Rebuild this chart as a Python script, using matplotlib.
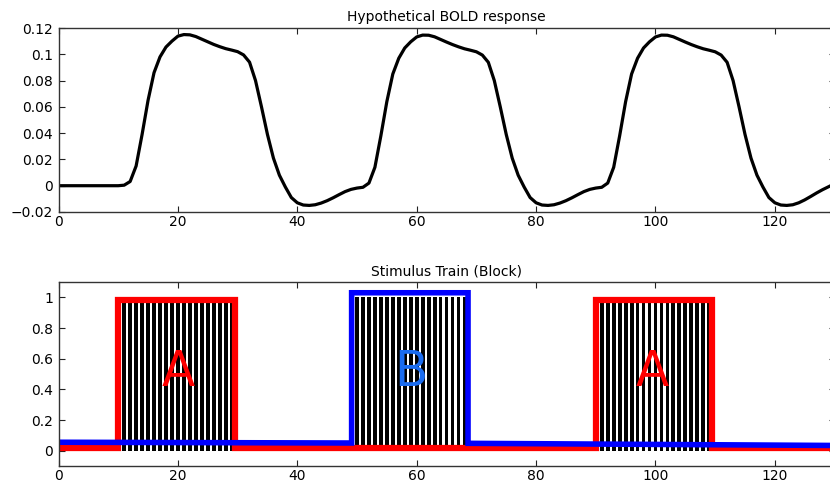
import numpy as np
import matplotlib
matplotlib.use("Agg")
import matplotlib.pyplot as plt

# time axis (s) and modelled BOLD signal, 1 s samples
t = np.arange(0, 131)
bold = [
    0, 0, 0, 0, 0, 0, 0, 0, 0, 0,
    0, 0.0004, 0.0032, 0.0150, 0.039, 0.065, 0.086, 0.098, 0.1055, 0.110,
    0.1138, 0.1150, 0.1148, 0.1135, 0.1115, 0.1095, 0.1075, 0.1058, 0.1043, 0.1032,
    0.1020, 0.0995, 0.0940, 0.080, 0.060, 0.039, 0.021, 0.008, -0.001, -0.009,
    -0.013, -0.0147, -0.0150, -0.0145, -0.0132, -0.0114, -0.0092, -0.0068, -0.0045, -0.0028,
    -0.0018, -0.0012, 0.0020, 0.0140, 0.0380, 0.0640, 0.085, 0.097, 0.1048, 0.1095,
    0.1132, 0.1146, 0.1145, 0.1133, 0.1113, 0.1093, 0.1074, 0.1057, 0.1042, 0.1031,
    0.1019, 0.0994, 0.0939, 0.080, 0.060, 0.039, 0.021, 0.008, -0.001, -0.009,
    -0.013, -0.0147, -0.0150, -0.0145, -0.0132, -0.0114, -0.0092, -0.0068, -0.0045, -0.0028,
    -0.0018, -0.0012, 0.0020, 0.0140, 0.0380, 0.0640, 0.085, 0.097, 0.1048, 0.1095,
    0.1132, 0.1146, 0.1145, 0.1133, 0.1113, 0.1093, 0.1074, 0.1057, 0.1042, 0.1031,
    0.1019, 0.0994, 0.0939, 0.080, 0.060, 0.039, 0.021, 0.008, -0.001, -0.009,
    -0.013, -0.0147, -0.0150, -0.0145, -0.0130, -0.0108, -0.0082, -0.0055, -0.0030, -0.0008,
    0.0015,
]

# stimulus samples (one bar per second of stimulation)
stim_a1 = np.arange(11, 30)
stim_b = np.arange(50, 69)
stim_a2 = np.arange(91, 110)

# condition traces drawn around the blocks
red_t = [0, 10, 10, 29.5, 29.5, 90, 90, 109.5, 109.5, 130]
red_y = [0.015, 0.015, 0.985, 0.985, 0.015, 0.015, 0.985, 0.985, 0.015, 0.015]
blue_t = [0, 49.1, 49.1, 68.6, 68.6, 130]
blue_y = [0.055, 0.05, 1.03, 1.03, 0.048, 0.034]

labels = ["A", "B", "A"]
label_x = [20, 59, 99.5]
label_c = ["#ff0000", "#1a6cf0", "#ff0000"]

plt.rcParams["font.family"] = "DejaVu Sans"
plt.rcParams["font.size"] = 10

fig = plt.figure(figsize=(8.3, 4.87), dpi=100)
ax1 = fig.add_axes([0.0705, 0.5647, 0.935, 0.3778])
ax2 = fig.add_axes([0.0705, 0.0431, 0.935, 0.3778])

for ax in (ax1, ax2):
    ax.tick_params(direction="in", length=4, width=0.8, top=True, right=True,
                   colors="#222222", labelcolor="black", labelsize=10)
    ax.tick_params(axis="x", pad=2)
    ax.tick_params(axis="y", pad=4)
    for s in ax.spines.values():
        s.set_linewidth(1.0)
        s.set_color("#333333")
    ax.set_xlim(0, 130)
    ax.set_xticks(range(0, 121, 20))

ax1.plot(t, bold, color="black", lw=2.3, solid_joinstyle="round")
ax1.set_ylim(-0.02, 0.12)
yt = [-0.02, 0, 0.02, 0.04, 0.06, 0.08, 0.1, 0.12]
ax1.set_yticks(yt)
ax1.set_yticklabels(["\u22120.02", "0", "0.02", "0.04", "0.06", "0.08", "0.1", "0.12"])
ax1.set_title("Hypothetical BOLD response", fontsize=10, pad=5)

for x in (stim_a1, stim_b, stim_a2):
    ax2.bar(x, np.ones(len(x)), width=0.64, color="black", lw=0)
ax2.plot(red_t, red_y, color="#ff0000", lw=4.5, solid_joinstyle="miter")
ax2.plot(blue_t, blue_y, color="#0000ff", lw=4.0, solid_joinstyle="miter")
for s, x, c in zip(labels, label_x, label_c):
    ax2.text(x, 0.51, s, color=c, fontsize=35, ha="center", va="center")
ax2.set_ylim(-0.1, 1.1)
ax2.set_yticks([0, 0.2, 0.4, 0.6, 0.8, 1])
ax2.set_yticklabels(["0", "0.2", "0.4", "0.6", "0.8", "1"])
ax2.set_title("Stimulus Train (Block)", fontsize=10, pad=5)

fig.savefig("out.png", dpi=100)
